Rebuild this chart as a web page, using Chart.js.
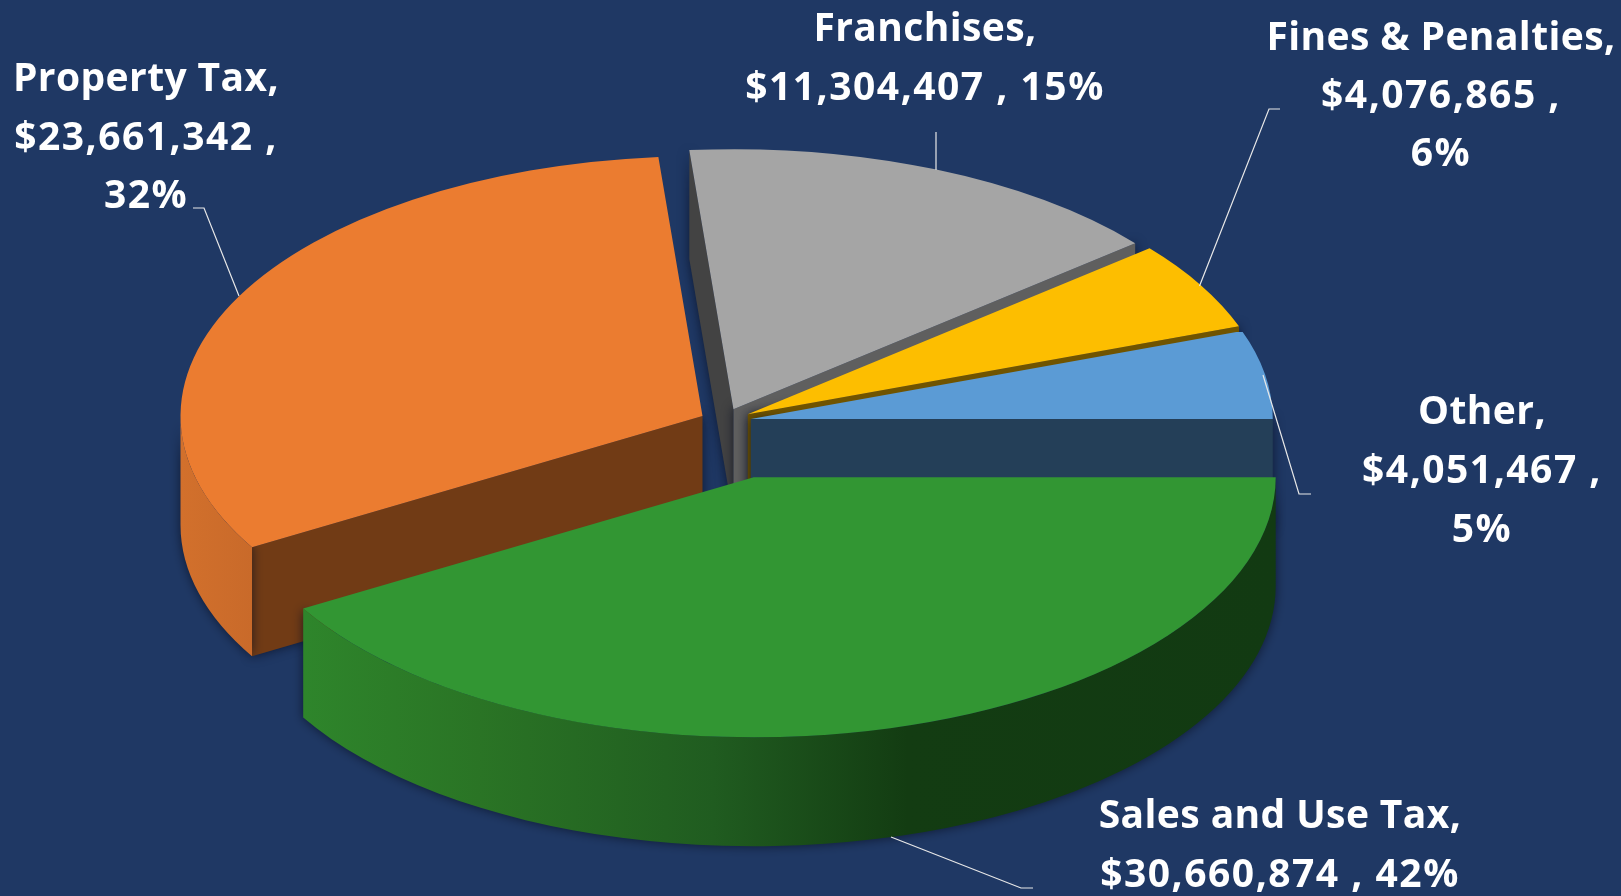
<!DOCTYPE html>
<html>
<head>
<meta charset="utf-8">
<title>Revenue by source</title>
<script src="https://cdn.jsdelivr.net/npm/chart.js@4"></script>
<style>html,body{margin:0;padding:0;background:#1f3864;overflow:hidden}canvas{display:block}</style>
</head>
<body>
<canvas id="c" width="1621" height="896"></canvas>
<script>
// Data (draw order: the front slice goes last)
const categories = ["Property Tax", "Franchises", "Fines & Penalties", "Other", "Sales and Use Tax"];
const revenue = [23661342, 11304407, 4076865, 4051467, 30660874];

// Styling
const topColors = ["#EB7C30", "#A5A5A5", "#FDBE00", "#5B9BD5", "#329633"];
const explode = [23.3, 26.5, 28.3, 28, 116.5];   // px along each slice's mid angle
const squash = 0.498, depth = 109, pieRadius = 522;
const pieCenter = {x: 723.2, y: 421.3};
const startFace = ["#713B15", "#434343", "#705400", "#243F58", "#123A12"];
const endFace   = ["#713B15", "#5F5F5F", "#705400", "#243F58", "#123A12"];
const labelFont = 'bold 39px "Open Sans"';

// Label layout: centre x, first baseline, line height, leader polyline, where to break the text
const labelLayout = [
  {x:146,  y:91,  lh:58.5, breakAfterValue:true,  leader:[[193,208],[204,208],[239,296]]},
  {x:925,  y:41,  lh:59,   breakAfterValue:false, leader:[[936,132],[936,170]]},
  {x:1441, y:50,  lh:58,   breakAfterValue:true,  leader:[[1280,109],[1269,109],[1199.5,286]]},
  {x:1482, y:424, lh:59,   breakAfterValue:true,  leader:[[1311,494],[1299,494],[1263,375]]},
  {x:1280, y:828, lh:59,   breakAfterValue:false, leader:[[1033,888],[1021,888],[891,837]]}
];

const total = revenue.reduce((a, b) => a + b, 0);
const TAU = Math.PI * 2;

function greenWallGradient(ctx) {
  const g = ctx.createLinearGradient(305, 0, 1277, 0);
  g.addColorStop(0,    "#2E852B");
  g.addColorStop(0.18, "#2A7425");
  g.addColorStop(0.42, "#205C20");
  g.addColorStop(0.62, "#133C12");
  g.addColorStop(1,    "#123A12");
  return g;
}
function orangeWallGradient(ctx) {
  const g = ctx.createLinearGradient(181, 0, 252, 0);
  g.addColorStop(0, "#D2702C");
  g.addColorStop(1, "#C96A2A");
  return g;
}

const pie3d = {
  id: "pie3d",
  beforeDraw(chart) {
    const {ctx, width, height} = chart;
    ctx.save();
    ctx.fillStyle = "#1F3864";
    ctx.fillRect(0, 0, width, height);
    ctx.restore();
  },
  beforeDatasetDraw(chart, args) {
    const ctx = chart.ctx;
    const arcs = chart.getDatasetMeta(args.index).data;
    const wallFills = [orangeWallGradient(ctx), null, null, null, greenWallGradient(ctx)];
    const shift = arcs.map((arc, i) => {
      const mid = arc.startAngle + arc.circumference / 2;
      return [Math.cos(mid) * explode[i], Math.sin(mid) * explode[i]];
    });
    // side faces, back to front
    arcs.forEach((arc, i) => {
      const a0 = ((arc.startAngle % TAU) + TAU) % TAU;
      const a1 = a0 + arc.circumference;
      const ax = arc.x + shift[i][0];
      const ay = arc.y + shift[i][1] * squash;
      const R = arc.outerRadius, Ry = R * squash;
      const rim = a => [ax + Math.cos(a) * R, ay + Math.sin(a) * Ry];
      ctx.save();
      ctx.shadowColor = "rgba(8,14,32,0.75)";
      ctx.shadowBlur = 11;
      const face = (a, fill) => {
        const p = rim(a);
        ctx.beginPath();
        ctx.moveTo(ax, ay);
        ctx.lineTo(p[0], p[1]);
        ctx.lineTo(p[0], p[1] + depth);
        ctx.lineTo(ax, ay + depth);
        ctx.closePath();
        ctx.fillStyle = fill;
        ctx.fill();
      };
      // cut faces, only those turned to the viewer
      if (Math.sin(a0 - Math.PI / 2) > 0) face(a0, startFace[i]);
      if (Math.sin(a1 + Math.PI / 2) > 0) face(a1, endFace[i]);
      // outer wall, front half only
      [[0, Math.PI], [TAU, TAU + Math.PI]].forEach(([lo, hi]) => {
        const s = Math.max(a0, lo), e = Math.min(a1, hi);
        if (e <= s) return;
        ctx.beginPath();
        ctx.ellipse(ax, ay, R, Ry, 0, s, e);
        ctx.ellipse(ax, ay + depth, R, Ry, 0, e, s, true);
        ctx.closePath();
        ctx.fillStyle = wallFills[i] || endFace[i];
        ctx.fill();
      });
      ctx.restore();
    });
    // top faces: the library's arc elements, squashed and pulled apart
    arcs.forEach((arc, i) => {
      ctx.save();
      ctx.translate(arc.x, arc.y);
      ctx.scale(1, squash);
      ctx.translate(shift[i][0] - arc.x, shift[i][1] - arc.y);
      arc.draw(ctx, chart.chartArea);
      ctx.restore();
    });
    return false;
  },
  afterDraw(chart) {
    const ctx = chart.ctx;
    ctx.save();
    ctx.textAlign = "center";
    ctx.textBaseline = "alphabetic";
    ctx.font = labelFont;
    ctx.fillStyle = "#FFFFFF";
    categories.forEach((name, i) => {
      const l = labelLayout[i];
      const money = "$" + revenue[i].toLocaleString("en-US");
      const pct = Math.round(revenue[i] / total * 100) + "%";
      const lines = l.breakAfterValue
        ? [name + ",", money + " ,", pct]
        : [name + ",", money + " , " + pct];
      lines.forEach((t, k) => {
        ctx.letterSpacing = k === 0 ? "0.4px" : "1.5px";
        ctx.fillText(t, l.x, l.y + k * l.lh);
      });
      ctx.beginPath();
      l.leader.forEach((p, k) => k ? ctx.lineTo(p[0], p[1]) : ctx.moveTo(p[0], p[1]));
      ctx.strokeStyle = "#E8E8E8";
      ctx.lineWidth = 1.2;
      ctx.stroke();
    });
    ctx.restore();
  }
};

new Chart(document.getElementById("c"), {
  type: "pie",
  data: {
    labels: categories,
    datasets: [{
      data: revenue,
      backgroundColor: topColors,
      borderWidth: 0,
      radius: pieRadius,
      clip: false
    }]
  },
  options: {
    responsive: false,
    animation: false,
    rotation: 90 + revenue[4] / total * 360,
    layout: {padding: {right: 2 * (810.5 - pieCenter.x), bottom: 2 * (448 - pieCenter.y)}},
    plugins: {legend: {display: false}, tooltip: {enabled: false}}
  },
  plugins: [pie3d]
});
</script>
</body>
</html>
